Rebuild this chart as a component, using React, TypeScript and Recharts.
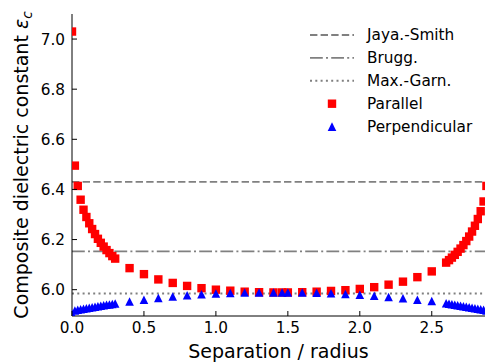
import { ComposedChart, Line, Scatter, XAxis, YAxis, Legend } from 'recharts'

// separation / radius at which each configuration was evaluated
const separation = [
  0, 0.02, 0.04, 0.06, 0.08, 0.1, 0.12, 0.14, 0.16, 0.18, 0.2, 0.22, 0.24, 0.26, 0.28, 0.3,
  0.4, 0.5, 0.6, 0.7, 0.8, 0.9, 1.0, 1.1, 1.2, 1.3, 1.4,
  1.46,
  1.5, 1.6, 1.7, 1.8, 1.9, 2.0, 2.1, 2.2, 2.3, 2.4, 2.5,
  2.6, 2.62, 2.64, 2.66, 2.68, 2.7, 2.72, 2.74, 2.76, 2.78, 2.8, 2.82, 2.84, 2.86, 2.88,
]

const parallel = [
  7.03, 6.495, 6.414, 6.359, 6.319, 6.29, 6.265, 6.242, 6.222, 6.203, 6.187, 6.172, 6.158, 6.146, 6.134, 6.124,
  6.086, 6.062, 6.041, 6.027, 6.015, 6.006, 6.0, 5.996, 5.992, 5.99, 5.989,
  5.989,
  5.989, 5.99, 5.992, 5.995, 5.998, 6.003, 6.01, 6.02, 6.032, 6.05, 6.073,
  6.108, 6.118, 6.128, 6.139, 6.151, 6.164, 6.178, 6.194, 6.212, 6.232, 6.255, 6.282, 6.313, 6.352, 6.414,
]

const perpendicular = [
  5.905, 5.917, 5.92, 5.922, 5.924, 5.926, 5.928, 5.93, 5.932, 5.934, 5.936, 5.938, 5.94, 5.941, 5.943, 5.945,
  5.953, 5.96, 5.967, 5.973, 5.978, 5.982, 5.985, 5.987, 5.989, 5.989, 5.989,
  5.989,
  5.989, 5.989, 5.988, 5.986, 5.983, 5.98, 5.976, 5.971, 5.966, 5.96, 5.955,
  5.946, 5.944, 5.942, 5.94, 5.938, 5.936, 5.934, 5.932, 5.93, 5.928, 5.926, 5.924, 5.922, 5.92, 5.917,
]

// effective-medium estimates (constant in separation)
const modelNames = ['Jaya.-Smith', 'Brugg.', 'Max.-Garn.']
const modelValues = [6.43, 6.153, 5.985]
const modelDashes = ['7.4 3.2', '12.8 3.2 2 3.2', '2 3.3']

const xTicks = [0, 0.5, 1, 1.5, 2, 2.5]
const yTicks = [6.0, 6.2, 6.4, 6.6, 6.8, 7.0]
const xDomain: [number, number] = [0, 2.87]
const yDomain: [number, number] = [5.895, 7.1]

const FONT = '"DejaVu Sans", sans-serif'
const TICK_FONT = 15.3
const TICK_LEN = 5
const GRAY = '#808080'
const RED = '#ff0000'
const BLUE = '#0000ff'
const SQUARE = 8.4
const TRIANGLE = 8.6

const parallelPoints = separation.map((x, i) => ({ x, y: parallel[i] }))
const perpendicularPoints = separation.map((x, i) => ({ x, y: perpendicular[i] }))
const modelLines = modelValues.map((v) => [
  { x: xDomain[0], y: v },
  { x: xDomain[1], y: v },
])

function Square({ cx, cy }: any) {
  const h = SQUARE / 2
  return <rect x={cx - h} y={cy - h} width={SQUARE} height={SQUARE} fill={RED} />
}

function Triangle({ cx, cy }: any) {
  const h = TRIANGLE / 2
  return <polygon points={`${cx},${cy - h} ${cx - h},${cy + h} ${cx + h},${cy + h}`} fill={BLUE} />
}

// ticks point into the plot on every side
function BottomTick({ x, y, payload }: any) {
  return (
    <g>
      <line x1={x} x2={x} y1={y - 6} y2={y - 6 - TICK_LEN} stroke="#000" />
      <text x={x} y={y} dy="0.71em" textAnchor="middle" fontSize={TICK_FONT} fontFamily={FONT} fill="#000">
        {payload.value.toFixed(1)}
      </text>
    </g>
  )
}

function LeftTick({ x, y, payload }: any) {
  return (
    <g>
      <line x1={x + 7} x2={x + 7 + TICK_LEN} y1={y} y2={y} stroke="#000" />
      <text x={x} y={y} dy="0.36em" textAnchor="end" fontSize={TICK_FONT} fontFamily={FONT} fill="#000">
        {payload.value.toFixed(1)}
      </text>
    </g>
  )
}

function TopTick({ x, y }: any) {
  return <line x1={x} x2={x} y1={y} y2={y + TICK_LEN} stroke="#000" />
}

function RightTick({ x, y }: any) {
  return <line x1={x} x2={x - TICK_LEN} y1={y} y2={y} stroke="#000" />
}

function XLabel({ viewBox }: any) {
  const { x, y, width } = viewBox
  return (
    <text x={x + width / 2} y={y + 42} textAnchor="middle" fontSize={19} fontFamily={FONT} fill="#000">
      Separation / radius
    </text>
  )
}

function YLabel() {
  const cx = 28
  const cy = 165
  return (
    <text
      x={cx}
      y={cy}
      transform={`rotate(-90, ${cx}, ${cy})`}
      textAnchor="middle"
      fontSize={19}
      fontFamily={FONT}
      fill="#000"
    >
      Composite dielectric constant{' '}
      <tspan fontStyle="italic">ε</tspan>
      <tspan fontStyle="italic" fontSize={13.5} dy="0.3em">c</tspan>
    </text>
  )
}

function LegendBox() {
  const rowY = (i: number) => 13 + i * 22.9
  return (
    <svg width={180} height={120} style={{ display: 'block', fontFamily: FONT }}>
      {modelNames.map((name, i) => (
        <g key={name}>
          <line x1={5} x2={49} y1={rowY(i)} y2={rowY(i)} stroke={GRAY} strokeWidth={1.9} strokeDasharray={modelDashes[i]} />
          <text x={62} y={rowY(i)} dy="0.33em" fontSize={TICK_FONT} fill="#000">{name}</text>
        </g>
      ))}
      <Square cx={27} cy={rowY(3)} />
      <text x={62} y={rowY(3)} dy="0.33em" fontSize={TICK_FONT} fill="#000">Parallel</text>
      <Triangle cx={27} cy={rowY(4)} />
      <text x={62} y={rowY(4)} dy="0.33em" fontSize={TICK_FONT} fill="#000">Perpendicular</text>
    </svg>
  )
}

export default function App() {
  return (
    <div style={{ width: 486, height: 362, background: '#fff' }}>
      <style>{'body{margin:0}'}</style>
      <ComposedChart width={486} height={362} margin={{ top: 14, right: 1, bottom: 0, left: 0 }}>
        <XAxis
          type="number"
          dataKey="x"
          domain={xDomain}
          ticks={xTicks}
          interval={0}
          allowDataOverflow
          height={46}
          tickSize={0}
          tickMargin={6}
          tick={<BottomTick />}
          axisLine={{ stroke: '#000' }}
          label={<XLabel />}
        />
        <XAxis
          xAxisId="top"
          orientation="top"
          type="number"
          domain={xDomain}
          ticks={xTicks}
          interval={0}
          allowDataOverflow
          height={0}
          tickSize={0}
          tickMargin={0}
          tick={<TopTick />}
          axisLine={{ stroke: '#000' }}
        />
        <YAxis
          type="number"
          dataKey="y"
          domain={yDomain}
          ticks={yTicks}
          interval={0}
          allowDataOverflow
          width={72}
          tickSize={0}
          tickMargin={7}
          tick={<LeftTick />}
          axisLine={{ stroke: '#000' }}
          label={<YLabel />}
        />
        <YAxis
          yAxisId="right"
          orientation="right"
          type="number"
          domain={yDomain}
          ticks={yTicks}
          interval={0}
          allowDataOverflow
          width={0}
          tickSize={0}
          tickMargin={0}
          tick={<RightTick />}
          axisLine={{ stroke: '#000' }}
        />
        {modelLines.map((pts, i) => (
          <Line
            key={modelNames[i]}
            data={pts}
            dataKey="y"
            type="linear"
            stroke={GRAY}
            strokeWidth={1.9}
            strokeDasharray={modelDashes[i]}
            dot={false}
            activeDot={false}
            isAnimationActive={false}
          />
        ))}
        <Scatter data={parallelPoints} shape={<Square />} isAnimationActive={false} />
        <Scatter data={perpendicularPoints} shape={<Triangle />} isAnimationActive={false} />
        <Legend
          layout="vertical"
          align="center"
          verticalAlign="middle"
          wrapperStyle={{ top: 22, left: 305, width: 180, height: 120 }}
          content={<LegendBox />}
        />
      </ComposedChart>
    </div>
  )
}
